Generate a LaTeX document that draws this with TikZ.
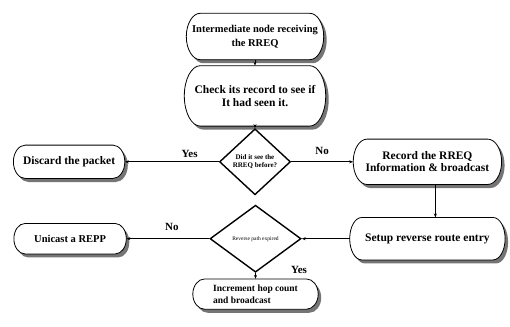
\documentclass[tikz,border=0pt]{standalone}
\usepackage{fontspec}
\setmainfont{Liberation Serif}
\usetikzlibrary{positioning,shapes.geometric,shadows,arrows.meta,calc,backgrounds}

% outline with elliptic ends: #1 node, #2 bulge
\newcommand{\capsulepath}[2]{([xshift=#2]#1.north west) -- ([xshift=-#2]#1.north east)
	.. controls ([xshift=-0.448*#2]#1.north east) and ($(#1.east)!0.552!(#1.north east)$) .. (#1.east)
	.. controls ($(#1.east)!0.552!(#1.south east)$) and ([xshift=-0.448*#2]#1.south east) .. ([xshift=-#2]#1.south east)
	-- ([xshift=#2]#1.south west)
	.. controls ([xshift=0.448*#2]#1.south west) and ($(#1.west)!0.552!(#1.south west)$) .. (#1.west)
	.. controls ($(#1.west)!0.552!(#1.north west)$) and ([xshift=0.448*#2]#1.north west) .. cycle}

\tikzset{
	stadium/.style={rectangle, inner sep=0pt, align=center, font=\fontsize{11.5}{13}\selectfont\bfseries},
	capsule/.style={draw, line width=0.8pt, fill=white,
		drop shadow={shadow xshift=3pt, shadow yshift=-3.5pt, fill=black!60, opacity=0.9}},
	decision/.style={diamond, draw, line width=1.4pt, fill=white, inner sep=0pt, align=center},
	flow/.style={-{Stealth[length=4pt,width=3pt]}, line width=0.9pt},
	answer/.style={font=\fontsize{11}{11}\selectfont\bfseries}
}

\begin{document}
\begin{tikzpicture}
	\useasboundingbox (0,0) rectangle (510pt,-326pt);

	\node[stadium, minimum width=137pt, minimum height=46pt, font=\fontsize{10.5}{14}\selectfont\bfseries] (recv) at (255pt,-36.5pt) {Intermediate node receiving\\the RREQ};
	\node[stadium, minimum width=141pt, minimum height=60pt, below=6pt of recv] (check) {Check its record to see if\\It had seen it.};
	\node[decision, minimum width=71pt, minimum height=66pt, below=2pt of check,
		font=\fontsize{7}{8.5}\selectfont\bfseries] (seen) {Did it see the\\RREQ before?};
	\node[stadium, minimum width=111pt, minimum height=33pt, left=94pt of seen] (discard) {Discard the packet};
	\node[stadium, minimum width=148pt, minimum height=45pt, right=62pt of seen,
		font=\fontsize{11.5}{11.5}\selectfont\bfseries] (record) {Record the RREQ\\Information \& broadcast};
	\node[stadium, minimum width=155pt, minimum height=42pt, below=33pt of record] (setup) {Setup reverse route entry};
	\node[decision, minimum width=91pt, minimum height=67pt, left=48pt of setup,
		font=\fontsize{5.5}{6}\selectfont] (expired) {Reverse path expired};
	\node[stadium, minimum width=112pt, minimum height=30pt, left=83pt of expired,
		font=\fontsize{10.5}{12}\selectfont\bfseries] (unicast) {Unicast a REPP};
	\node[stadium, minimum width=125pt, minimum height=30pt, below=6pt of expired, align=left,
		font=\fontsize{9.5}{11.5}\selectfont\bfseries] (incr) {Increment hop count\\ and broadcast};

	% outlines behind the texts
	\begin{scope}[on background layer]
		\foreach \n/\b in {recv/14pt, check/16pt, discard/12pt, record/14pt, setup/12pt, unicast/11pt, incr/12pt}
			\path[capsule] \capsulepath{\n}{\b};
	\end{scope}

	% connectors
	\draw[flow] (recv) -- (check);
	\draw[flow] (check) -- (seen);
	\draw[flow] (seen) -- node[answer, pos=0.31, above] {Yes} (discard);
	\draw[flow] (seen) -- node[answer, above, yshift=3.5pt] {No} (record);
	\draw[flow] ([xshift=8pt]record.south) -- ([xshift=8pt]setup.north);
	\draw[flow] (setup) -- (expired);
	\draw[flow] (expired) -- node[answer, pos=0.45, above, yshift=4.5pt] {No} (unicast);
	\draw[flow] (expired) -- node[answer, pos=0, xshift=43.5pt, yshift=3pt] {Yes} (incr);
\end{tikzpicture}
\end{document}
